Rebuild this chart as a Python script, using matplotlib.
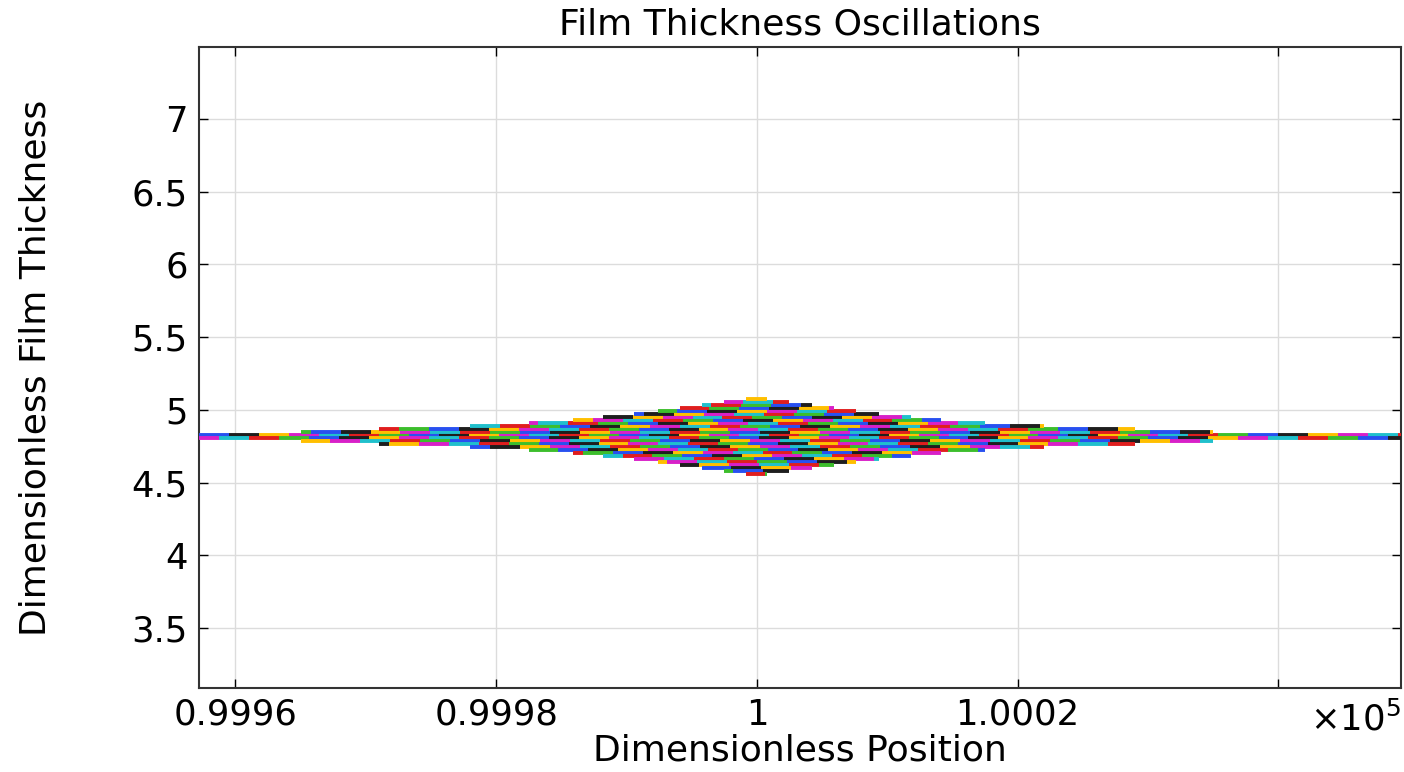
import matplotlib
matplotlib.use("Agg")
import matplotlib.pyplot as plt
import numpy as np
from matplotlib.collections import LineCollection
from matplotlib.ticker import FixedLocator, FuncFormatter

# Niveles de espesor (centro de cada franja) y su extensión en x
h_centro = 4.815
h_paso = 0.0206
# semi-anchos en x de cada franja (desde la central hacia afuera)
semi_ancho = [None, 35.0, 29.0, 22.0, 17.5, 14.1, 11.8, 9.4, 7.6, 5.9, 4.2, 2.5, 0.8]
x_centro = 100000.0

# Ejes
x_lim = (99957.2, 100049.4)
y_lim = (3.087, 7.495)
x_ticks = [99960, 99980, 100000, 100020, 100040]
x_labels = ["0.9996", "0.9998", "1", "1.0002", ""]
y_ticks = [3.5, 4, 4.5, 5, 5.5, 6, 6.5, 7]

# Paleta cíclica de colores
colores = ["#2850f0", "#1e1e1e", "#ffbf00", "#d820c8", "#20c0cc", "#e01e1e", "#3cbe2c"]
largo_seg = 2.3

fig = plt.figure(figsize=(14.04, 7.72), dpi=100)
ax = fig.add_axes([0.1417, 0.1088, 0.8561, 0.8303])

segs = []
cols = []
n = 0
for k, sa in enumerate(semi_ancho):
    for signo in (1, -1):
        y = h_centro + signo * (k + 0.5) * h_paso
        if sa is None:
            x0, x1 = x_lim
        else:
            x0, x1 = x_centro - sa, x_centro + sa
        fase = (n * 0.77) % largo_seg
        bordes = np.arange(x0 - fase, x1 + largo_seg, largo_seg)
        for j in range(len(bordes) - 1):
            a = max(bordes[j], x0)
            b = min(bordes[j + 1], x1)
            if b <= a:
                continue
            segs.append([(a, y), (b, y)])
            cols.append(colores[(3 * n + j) % len(colores)])
        n += 1

lc = LineCollection(segs, colors=cols, linewidths=2.8, capstyle="butt", zorder=3)
ax.add_collection(lc)

ax.set_xlim(x_lim)
ax.set_ylim(y_lim)
ax.xaxis.set_major_locator(FixedLocator(x_ticks))
ax.set_xticklabels(x_labels)
ax.yaxis.set_major_locator(FixedLocator(y_ticks))
ax.yaxis.set_major_formatter(FuncFormatter(lambda v, p: "%g" % v))

ax.grid(True, color="#dcdcdc", linewidth=1.0, zorder=0)
ax.set_axisbelow(True)
ax.tick_params(direction="in", length=6.5, width=1.0, top=True, right=True,
               labelsize=25.5, color="black", pad=8)
ax.tick_params(axis="x", pad=7)
for s in ax.spines.values():
    s.set_color("#333333")
    s.set_linewidth(1.5)

ax.text(1.0, -0.02, r"$\times$10$^5$", transform=ax.transAxes, ha="right", va="top",
        fontsize=25.5)

ax.set_title("Film Thickness Oscillations", fontsize=26, pad=9)
ax.set_xlabel("Dimensionless Position", fontsize=26, labelpad=1)
ax.set_ylabel("Dimensionless Film Thickness", fontsize=26)
ax.yaxis.set_label_coords(-0.122, 0.5)

plt.savefig("out.png", dpi=100)
